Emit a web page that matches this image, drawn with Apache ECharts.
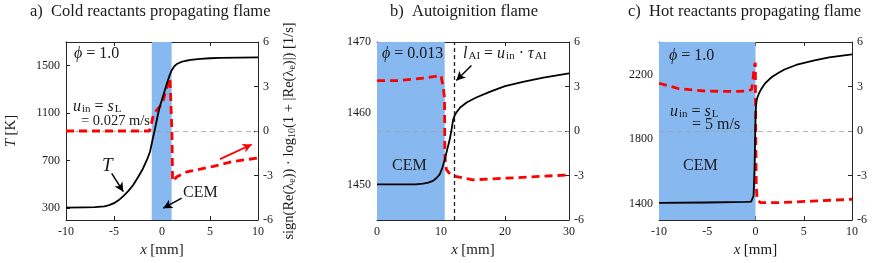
<!DOCTYPE html>
<html><head><meta charset="utf-8">
<script src="https://cdn.jsdelivr.net/npm/echarts@6/dist/echarts.min.js"></script>
<style>html,body{margin:0;padding:0;background:#fff}#c{width:872px;height:263px}</style>
</head><body><div id="c"></div>
<script>
// ---------- data ----------
// Panel a: cold reactants propagating flame
const aTx = [-10,-8,-7,-6,-5.5,-5,-4.5,-4,-3.5,-3,-2.5,-2,-1.5,-1.25,-1,-0.75,-0.5,-0.25,0,0.25,0.5,0.75,1,1.25,1.5,2,2.5,3,4,5,6,8,10];
const aT  = [305,306,308,315,325,342,368,403,445,495,560,630,720,775,870,960,1060,1150,1215,1280,1348,1410,1460,1492,1512,1532,1542,1550,1558,1563,1566,1569,1571];
const aCx = [-10,-1.3,-1.1,-0.9,-0.5,-0.2,0.14,0.49,0.83,0.98,1.03,1.1,1.2,1.5,2.57,5.35,7.43,10];
const aC  = [0,0,0.5,1.1,1.45,1.66,2.1,2.9,3.57,3.6,0,-3.2,-3.4,-3.1,-2.76,-2.38,-2.05,-1.82];
const aBand = [-1.07, 1.0];
// Panel b: autoignition flame
const bTx = [0,6,7.2,8,8.75,9.3,9.8,10.2,10.58,11,11.36,11.65,11.9,12.15,12.4,13,14,15.5,17.6,20,22.8,26,30];
const bT  = [1450,1450,1450.1,1450.25,1450.5,1450.9,1451.4,1452.3,1453.5,1455,1456.3,1457.7,1459.1,1459.7,1460.1,1460.8,1461.5,1462.2,1463.0,1463.8,1464.4,1465.0,1465.6];
const bCx = [0,3.5,7.2,10.0,10.35,10.55,10.6,10.7,10.85,11.6,15,20.2,30];
const bC  = [3.4,3.4,3.57,3.73,2.95,2.2,-1.5,-2.2,-2.6,-3.0,-3.29,-3.18,-2.96];
const bBand = [0, 10.58];
const bLAI = 12.0;
// Panel c: hot reactants propagating flame
const cTx = [-10,-5,-1,-0.45,-0.3,-0.2,-0.1,0,0.05,0.12,0.22,0.4,0.57,0.8,1,1.4,1.77,2.4,3,4.2,6,7.62,10];
const cT  = [1406,1408,1412,1414,1425,1450,1617,1923,2004,2040,2061,2088,2106,2128,2145,2168,2187,2210,2230,2258,2285,2305,2323];
const cCx = [-10,-7.93,-5.1,-2.7,-0.8,-0.4,-0.25,-0.15,-0.02,0.02,0.08,0.17,0.52,2.4,5.85,10];
const cC  = [3.22,2.85,2.69,2.67,2.69,2.8,3.5,4.3,4.6,0,-3.67,-4.66,-4.83,-4.83,-4.73,-4.6];
const cBand = [-10, 0];
// axes
const xRanges = [[-10,10],[0,30],[-10,10]];
const xIntervals = [5,10,5];
const tRanges = [[200,1700],[1445,1470],[1300,2400]];
const tTicks = [[300,700,1100,1500],[1450,1460,1470],[1400,1800,2200]];
const cemRange = [-6,6];
const cemInterval = 3;

// ---------- layout ----------
const FONT = 'Liberation Serif';
const INK = '#1a1a1a';
const grids = [
  {left:66, top:42, width:192, height:178},
  {left:377, top:42, width:192, height:178},
  {left:659, top:42, width:193, height:178}
];
const zip = (xs, ys) => xs.map((x,i)=>[x, ys[i]]);
const mkRich = fs => ({
  i:{fontStyle:'italic', fontFamily:FONT, fontSize:fs, color:INK, verticalAlign:'bottom', lineHeight:17},
  r:{fontFamily:FONT, fontSize:fs, color:INK, verticalAlign:'bottom', lineHeight:17},
  e:{fontFamily:FONT, fontSize:fs, color:INK, verticalAlign:'bottom', lineHeight:17, padding:[0,4,0,4]},
  s:{fontSize:11, fontFamily:FONT, color:INK, verticalAlign:'bottom', lineHeight:5, padding:[0,0,0,1]}
});
const rich = mkRich(16);
const axisBox = {lineStyle:{color:'#262626', width:1}};
const plain = v => String(v);
const nameRich = {i:{fontStyle:'italic', fontFamily:FONT, fontSize:15, color:INK}, r:{fontFamily:FONT, fontSize:15, color:INK}};
const tickFont = {fontFamily:FONT, fontSize:12, color:INK};

const xAxes = [], yAxes = [];
grids.forEach((g,i)=>{
  xAxes.push({type:'value', gridIndex:i, min:xRanges[i][0], max:xRanges[i][1], interval:xIntervals[i],
    axisLine:{show:true, onZero:false, ...axisBox}, axisTick:{inside:true, length:4, lineStyle:{color:'#262626'}},
    splitLine:{show:false},
    axisLabel:{...tickFont, margin:6, formatter:plain},
    name:'{i|x} {r|[mm]}', nameLocation:'middle', nameGap:22,
    nameTextStyle:{rich:nameRich}
  });
  xAxes.push({type:'value', gridIndex:i, position:'top', min:xRanges[i][0], max:xRanges[i][1], interval:xIntervals[i],
    axisLine:{show:true, onZero:false, ...axisBox}, axisTick:{inside:true, length:4, lineStyle:{color:'#262626'}},
    splitLine:{show:false}, axisLabel:{show:false}});
});
grids.forEach((g,i)=>{
  yAxes.push({type:'value', gridIndex:i, position:'left', min:tRanges[i][0], max:tRanges[i][1],
    axisLine:{show:true, onZero:false, ...axisBox},
    axisTick:{inside:true, length:4, customValues:tTicks[i], lineStyle:{color:'#262626'}},
    axisLabel:{customValues:tTicks[i], ...tickFont, margin:6, formatter:plain},
    splitLine:{show:false},
    name: i===0 ? '{i|T} {r|[K]}' : '', nameLocation:'middle', nameGap:47,
    nameTextStyle:{rich:nameRich}
  });
  yAxes.push({type:'value', gridIndex:i, position:'right', min:cemRange[0], max:cemRange[1], interval:cemInterval,
    axisLine:{show:true, onZero:false, ...axisBox},
    axisTick:{inside:true, length:4, lineStyle:{color:'#262626'}},
    axisLabel:{...tickFont, margin:5, formatter:plain},
    splitLine:{show:false},
    name: i===0 ? '{r|sign(Re(λ}{s|e}{r|)) · log}{s|10}{r|(1 + |Re(λ}{s|e}{r|)|) [1/s]}' : '',
    nameLocation:'middle', nameGap:23,
    nameTextStyle:{rich:{
      r:{fontFamily:FONT, fontSize:14.5, color:INK, verticalAlign:'bottom', lineHeight:16},
      s:{fontFamily:FONT, fontSize:10, color:INK, verticalAlign:'bottom', lineHeight:5}
    }}
  });
});

const TX = [aTx,bTx,cTx], TY = [aT,bT,cT], CX = [aCx,bCx,cCx], CY = [aC,bC,cC], BANDS = [aBand,bBand,cBand];
const arrowEnd = {symbol:'arrow', symbolSize:[7,9]};
const blackArrows = [
  [[[-5.24,593],[-4.03,439]], [[2.05,384],[0.135,300]]],
  [[[14.75,1466.7],[12.4,1464.6]]],
  []
];
const series = [];
for (let i=0;i<3;i++){
  const mlData = blackArrows[i].map(p=>[{coord:p[0], symbol:'none'}, {coord:p[1], ...arrowEnd}]);
  if (i===1) mlData.push({xAxis:bLAI, symbol:'none', lineStyle:{type:[4,3], color:'#222', width:1.3}});
  series.push({
    type:'line', xAxisIndex:2*i, yAxisIndex:2*i, data:zip(TX[i],TY[i]), showSymbol:false,
    smooth:false, z:4,
    lineStyle:{color:'#000', width:1.8, join:'round'},
    markArea:{silent:true, itemStyle:{color:'#88b8f0'}, data:[[{xAxis:BANDS[i][0]},{xAxis:BANDS[i][1]}]]},
    markLine:{silent:true, symbol:['none','none'], label:{show:false}, animation:false,
      lineStyle:{color:'#000', width:1.5, type:'solid'}, data:mlData}
  });
  const redMl = [{yAxis:0, symbol:'none', lineStyle:{color:'#a0a0a0', width:0.8, type:[5,4]}}];
  if (i===0) redMl.push([{coord:[6.04,-1.9], symbol:'none'}, {coord:[9.34,-0.91], ...arrowEnd, lineStyle:{color:'#ff0000', width:1.8, type:'solid'}}]);
  series.push({
    type:'line', xAxisIndex:2*i, yAxisIndex:2*i+1, data:zip(CX[i],CY[i]), showSymbol:false, z:3,
    lineStyle:{color:'#ff0000', width:2.8, type:[8,5]},
    markLine:{silent:true, symbol:['none','none'], label:{show:false}, animation:false, z:1,
      lineStyle:{color:'#ff0000', width:1.8, type:'solid'}, data:redMl}
  });
}

const titleRich = {r:{fontFamily:FONT, fontSize:16.5, color:INK}};
const T = (x,y,text,extra={}) => ({type:'text', left:x, top:y, z:100, style:{text, rich, fill:INK, ...extra}});
const graphic = [
  T(30,3,'{r|a)  Cold reactants propagating flame}', {rich:titleRich}),
  T(390,3,'{r|b)  Autoignition flame}', {rich:titleRich}),
  T(628,3,'{r|c)  Hot reactants propagating flame}', {rich:titleRich}),
  T(74,46,'{i|ϕ}{e|=}{r|1.0}'),
  T(73,99,'{i|u}{s|in}{e|=}{i|s}{s|L}'),
  T(81,114,'{r|= 0.027 m/s}', {rich:mkRich(14.5)}),
  T(102,156,'{i|T}', {rich:{i:{fontStyle:'italic', fontFamily:FONT, fontSize:19, color:INK}}}),
  T(183,185,'{r|CEM}'),
  T(382,46,'{i|ϕ}{e|=}{r|0.013}'),
  T(463,46,'{i|l}{s|AI}{e|=}{i|u}{s|in}{e|·}{i|τ}{s|AI}'),
  T(392,158,'{r|CEM}'),
  T(669,48,'{i|ϕ}{e|=}{r|1.0}'),
  T(670,104,'{i|u}{s|in}{e|=}{i|s}{s|L}'),
  T(692,117,'{r|= 5 m/s}'),
  T(683,158,'{r|CEM}')
];

const chart = echarts.init(document.getElementById('c'), null, {renderer:'canvas'});
chart.setOption({
  animation:false, backgroundColor:'#fff',
  grid:grids, xAxis:xAxes, yAxis:yAxes, series, graphic
});
</script></body></html>
